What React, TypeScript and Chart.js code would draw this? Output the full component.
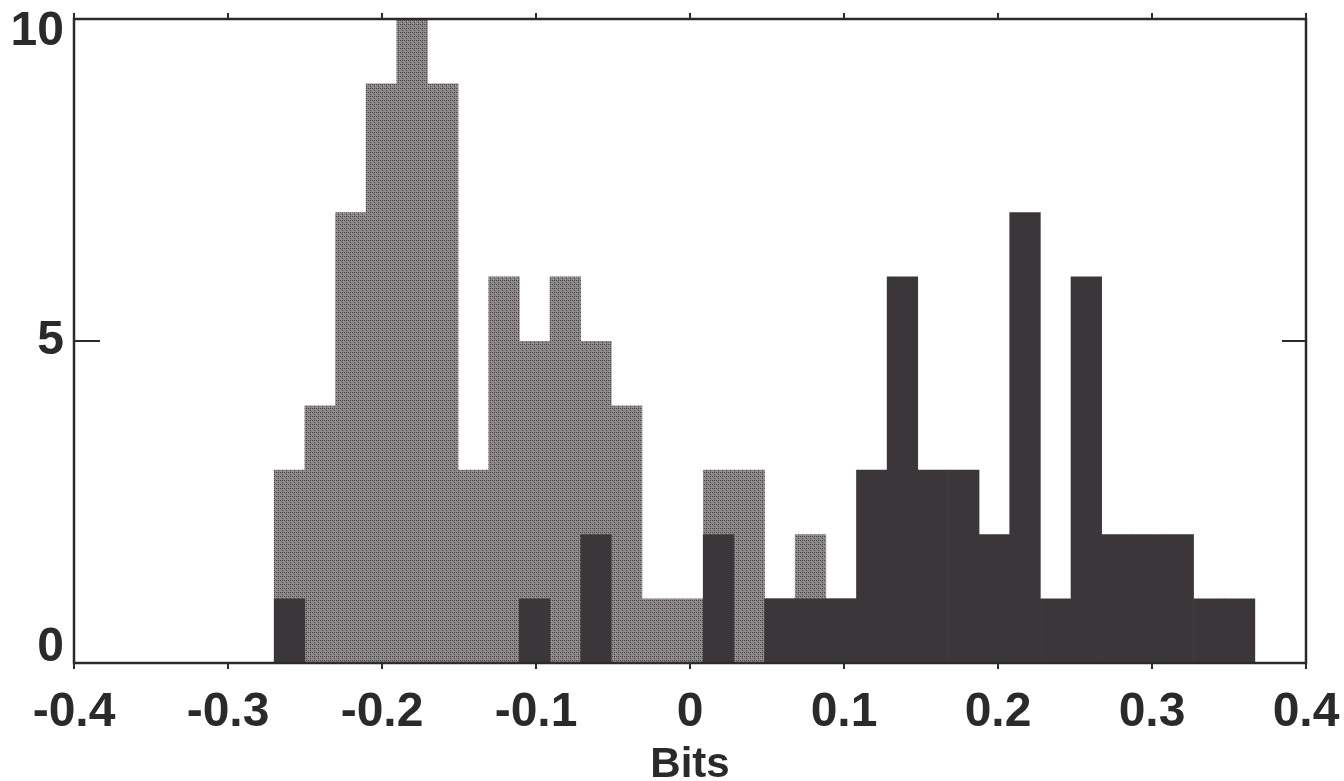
import React, { useEffect, useRef } from "react";
import { Chart, registerables } from "chart.js";

Chart.register(...registerables);

// Histogram bin centres (bin width ≈ 0.0199 bits)
const binCenters = [
  -0.26005, -0.24015, -0.22025, -0.20035, -0.18045, -0.16055, -0.14065, -0.12075,
  -0.10085, -0.08095, -0.06105, -0.04115, -0.02125, -0.00135, 0.01855, 0.03845,
  0.05835, 0.07825, 0.09815, 0.11805, 0.13795, 0.15785, 0.17775, 0.19765,
  0.21755, 0.23745, 0.25735, 0.27725, 0.29715, 0.31705, 0.33695, 0.35685,
];

// Grey histogram (back)
const grayCounts = [
  3, 4, 7, 9, 10, 9, 3, 6, 5, 6, 5, 4, 1, 1, 3, 3,
  1, 2, 1, 0, 0, 0, 0, 0, 0, 0, 0, 0, 0, 0, 0, 0,
];

// Dark histogram (front)
const darkCounts = [
  1, 0, 0, 0, 0, 0, 0, 0, 1, 0, 2, 0, 0, 0, 2, 0,
  1, 1, 1, 3, 6, 3, 3, 2, 7, 1, 6, 2, 2, 2, 1, 1,
];

const xTickValues = [-0.4, -0.3, -0.2, -0.1, 0, 0.1, 0.2, 0.3, 0.4];
const xTickLabels = ["-0.4", "-0.3", "-0.2", "-0.1", "0", "0.1", "0.2", "0.3", "0.4"];
const yTickValues = [0, 5, 10];
const yTickLabels = ["0", "5", "10"];
const xTitle = "Bits";

const FONT = '"Liberation Sans", Arial, Helvetica, sans-serif';
const INK = "#2b292a";

function makeHalftone(): CanvasPattern | string {
  const c = document.createElement("canvas");
  c.width = 4;
  c.height = 4;
  const g = c.getContext("2d");
  if (!g) return "#807c7b";
  g.fillStyle = "#8a8685";
  g.fillRect(0, 0, 4, 4);
  g.fillStyle = "#474345";
  g.fillRect(0, 0, 1, 1);
  g.fillRect(2, 2, 1, 1);
  g.fillRect(2, 0, 1, 1);
  g.fillStyle = "#a29e9d";
  g.fillRect(1, 3, 1, 1);
  g.fillRect(3, 1, 1, 1);
  const p = g.createPattern(c, "repeat");
  return p || "#807c7b";
}

const framePlugin = {
  id: "frameTicks",
  afterDraw(chart: any) {
    const { ctx, chartArea } = chart;
    const { left, right, top, bottom } = chartArea;
    const x = chart.scales.x;
    const y = chart.scales.y;
    ctx.save();
    ctx.strokeStyle = INK;
    ctx.lineWidth = 2.5;
    ctx.strokeRect(left, top, right - left, bottom - top);
    ctx.lineWidth = 2;
    ctx.beginPath();
    for (const v of xTickValues) {
      const px = x.getPixelForValue(v);
      ctx.moveTo(px, bottom);
      ctx.lineTo(px, bottom + 6);
      ctx.moveTo(px, top);
      ctx.lineTo(px, top - 6);
    }
    for (const v of yTickValues) {
      const py = y.getPixelForValue(v);
      ctx.moveTo(left, py);
      ctx.lineTo(left + 26, py);
      ctx.moveTo(right, py);
      ctx.lineTo(right - 24, py);
    }
    ctx.stroke();
    // y tick labels (kept inside the axis range, as in the original)
    ctx.fillStyle = INK;
    ctx.font = `bold 48px ${FONT}`;
    ctx.textAlign = "right";
    ctx.textBaseline = "middle";
    yTickValues.forEach((v, i) => {
      let py = y.getPixelForValue(v);
      py = Math.min(Math.max(py, top + 13), bottom - 15);
      ctx.fillText(yTickLabels[i], left - 10, py);
    });
    ctx.restore();
  },
};

export default function App() {
  const ref = useRef<HTMLCanvasElement>(null);

  useEffect(() => {
    document.body.style.margin = "0";
    const canvas = ref.current;
    if (!canvas) return;
    const gray = makeHalftone();
    const chart = new Chart(canvas, {
      type: "bar",
      data: {
        datasets: [
          {
            label: "dark",
            data: binCenters.map((c, i) => ({ x: c, y: darkCounts[i] })),
            backgroundColor: "#3b363a",
            borderWidth: 0,
            grouped: false,
            order: 0,
            barPercentage: 1.02,
            categoryPercentage: 1,
          } as any,
          {
            label: "gray",
            data: binCenters.map((c, i) => ({ x: c, y: grayCounts[i] })),
            backgroundColor: gray as any,
            borderWidth: 0,
            grouped: false,
            order: 1,
            barPercentage: 1.02,
            categoryPercentage: 1,
          } as any,
        ],
      },
      options: {
        responsive: false,
        animation: false,
        devicePixelRatio: 1,
        layout: { padding: { top: 19, right: 38, left: 0, bottom: 0 } },
        plugins: {
          legend: { display: false },
          tooltip: { enabled: false },
          title: { display: false },
        },
        scales: {
          x: {
            type: "linear",
            min: -0.4,
            max: 0.4,
            offset: false,
            grid: { display: false, offset: false, drawTicks: false },
            border: { display: false },
            afterBuildTicks: (scale: any) => {
              scale.ticks = xTickValues.map((v) => ({ value: v }));
            },
            afterFit: (scale: any) => {
              scale.height = 118;
              scale.paddingLeft = 0;
              scale.paddingRight = 0;
            },
            ticks: {
              autoSkip: false,
              maxRotation: 0,
              minRotation: 0,
              padding: 21,
              color: INK,
              font: { family: FONT, size: 48, weight: "bold", lineHeight: 1.2 },
              callback: (_v: any, i: number) => xTickLabels[i],
            },
            title: {
              display: true,
              text: xTitle,
              color: INK,
              font: { family: FONT, size: 42, weight: "bold", lineHeight: 0.72 },
              padding: { top: 0, bottom: 0 },
            },
          },
          y: {
            type: "linear",
            min: 0,
            max: 10,
            grid: { display: false, drawTicks: false },
            border: { display: false },
            afterBuildTicks: (scale: any) => {
              scale.ticks = yTickValues.map((v) => ({ value: v }));
            },
            afterFit: (scale: any) => {
              scale.width = 74;
            },
            ticks: { display: false },
          },
        },
      } as any,
      plugins: [framePlugin],
    });
    return () => chart.destroy();
  }, []);

  return (
    <div style={{ position: "absolute", left: 0, top: 0, width: 1344, height: 781, background: "#ffffff" }}>
      <canvas ref={ref} width={1344} height={781} style={{ display: "block", width: 1344, height: 781 }} />
    </div>
  );
}
